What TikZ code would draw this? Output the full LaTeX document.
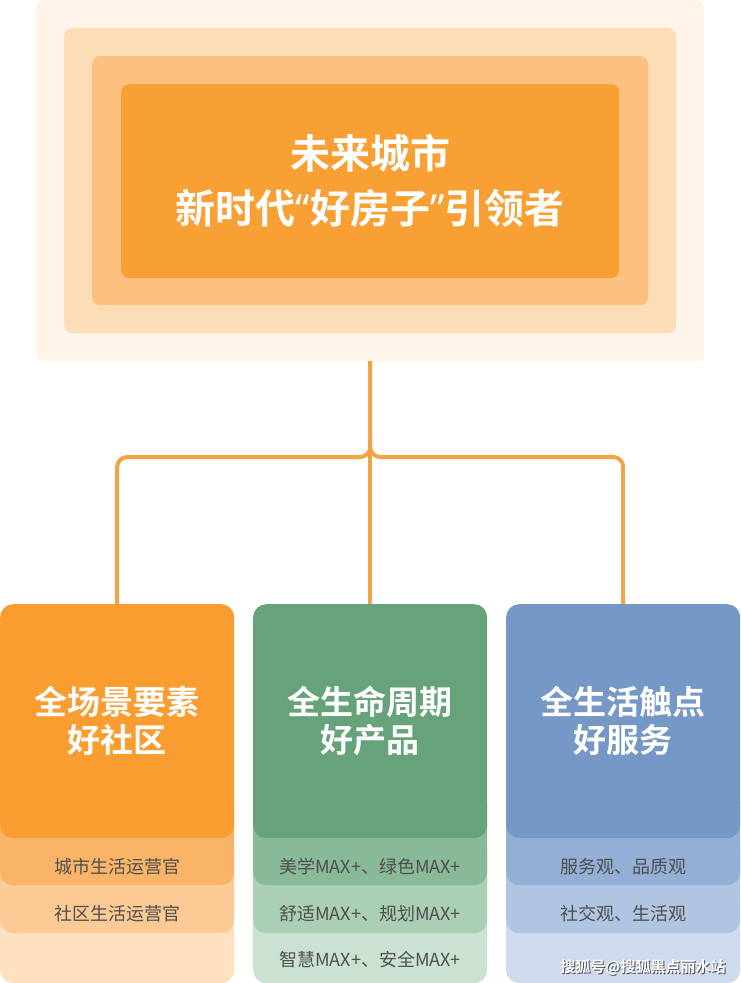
\documentclass[tikz,border=0pt]{standalone}
\usepackage{fontspec}
\setmainfont{Noto Sans CJK SC}[BoldFont={Noto Sans CJK SC Bold}]
\newfontfamily\quotefont{Noto Sans}
\usepackage{tikz}
\usetikzlibrary{positioning}

\definecolor{panel}{HTML}{FEF4E8}
\definecolor{ringA}{HTML}{FDDDB8}
\definecolor{ringB}{HTML}{FCC17E}
\definecolor{ringC}{HTML}{F9A035}
\definecolor{wire}{HTML}{F2A547}
\definecolor{orgmain}{HTML}{F99D31}
\definecolor{orgone}{HTML}{FAB468}
\definecolor{orgtwo}{HTML}{FCCA94}
\definecolor{orgthree}{HTML}{FDE1C1}
\definecolor{grnmain}{HTML}{66A37A}
\definecolor{grnone}{HTML}{89BA98}
\definecolor{grntwo}{HTML}{AACFB5}
\definecolor{grnthree}{HTML}{CBE2D2}
\definecolor{blumain}{HTML}{7698C6}
\definecolor{bluone}{HTML}{93AFD5}
\definecolor{blutwo}{HTML}{B0C5E2}
\definecolor{bluthree}{HTML}{CEDBEE}
\definecolor{ink}{HTML}{4F4F4F}

\begin{document}
\begin{tikzpicture}[x=1pt, y=-1pt]
  \tikzstyle{layer}=[rounded corners=8pt, inner sep=0pt, anchor=north west]
  \tikzstyle{card}=[rounded corners=13pt, inner sep=0pt, anchor=north west, minimum width=234pt]
  \tikzstyle{bandtext}=[text=ink, font=\fontsize{18}{20}\selectfont]
  \tikzstyle{conn}=[draw=wire, line width=4pt, rounded corners=10pt]
  \useasboundingbox (0,0) rectangle (740,983);

  % top frame, nested rings
  \node (frame) at (36,0) [layer, fill=panel, minimum width=668pt, minimum height=361pt] {};
  \node (ring1) at (64,28) [layer, fill=ringA, minimum width=612pt, minimum height=305pt] {};
  \node (ring2) at (92,56) [layer, fill=ringB, minimum width=556pt, minimum height=249pt] {};
  \node (core) at (121,84) [layer, fill=ringC, minimum width=498pt, minimum height=194pt,
    text=white, align=center, font=\bfseries\fontsize{40}{55}\selectfont]
    {未来城市\\新时代{\quotefont\bfseries“}好房子{\quotefont\bfseries”}引领者};

  % three columns, bands drawn bottom first
  \foreach \cx/\tone/\name/\ttl/\la/\lb/\lc in {
      0/org/colA/{全场景要素\\好社区}/{城市生活运营官}/{社区生活运营官}/{},
      253/grn/colB/{全生命周期\\好产品}/{美学MAX+、绿色MAX+}/{舒适MAX+、规划MAX+}/{智慧MAX+、安全MAX+},
      506/blu/colC/{全生活触点\\好服务}/{服务观、品质观}/{社交观、生活观}/{}} {
    \node (\name band3) at (\cx,885) [card, fill=\tone three, minimum height=98pt] {};
    \node (\name band2) at (\cx,838) [card, fill=\tone two, minimum height=95pt] {};
    \node (\name band1) at (\cx,790) [card, fill=\tone one, minimum height=95pt] {};
    \node (\name) at (\cx,604) [card, fill=\tone main, minimum height=234pt,
      text=white, align=center, font=\bfseries\fontsize{33}{38}\selectfont] {\ttl};
    \node (\name txt1) at (\cx+117,867) [bandtext] {\la};
    \node (\name txt2) at (\cx+117,914) [bandtext] {\lb};
    \node (\name txt3) at (\cx+117,960) [bandtext] {\lc};
  }

  % connectors
  \coordinate (fork) at (frame.south |- 0,457);
  \draw[conn] (frame.south) -- (colB.north);
  \draw[conn] (frame.south) -- (fork) -| (colA.north);
  \draw[conn] (frame.south) -- (fork) -| (colC.north);

  % watermark
  \node (markshadow) at (644,968) [text=ink, font=\bfseries\fontsize{15}{18}\selectfont] {搜狐号@搜狐黑点丽水站};
  \node (mark) at (643,967) [text=white, font=\bfseries\fontsize{15}{18}\selectfont] {搜狐号@搜狐黑点丽水站};
\end{tikzpicture}
\end{document}
